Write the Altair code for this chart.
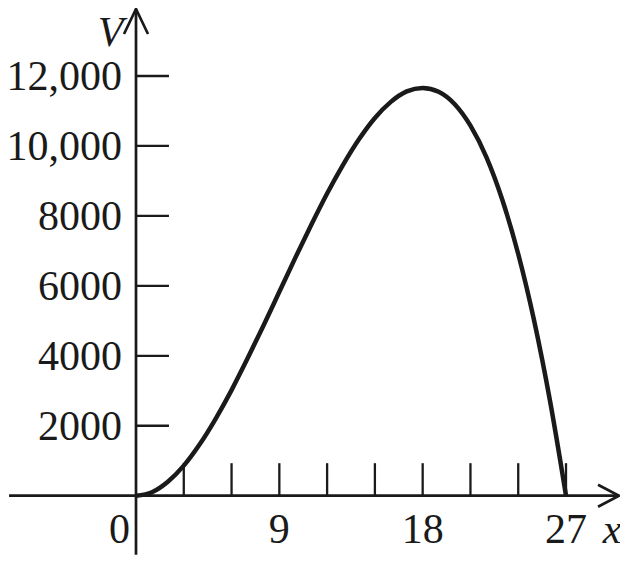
import altair as alt
import pandas as pd

# ---- data ----
curve_x = list(range(0, 28))
curve_v = [0, 100, 400, 860, 1470, 2200, 3020, 3920, 4860, 5830, 6800, 7740,
           8640, 9460, 10190, 10800, 11260, 11560, 11660, 11550, 11200, 10580,
           9680, 8460, 6910, 5000, 2700, 0]

x_ticks = [3, 6, 9, 12, 15, 18, 21, 24, 27]
x_tick_labels = ["9", "18", "27"]
x_label_pos = [9, 18, 27]
y_ticks = [2000, 4000, 6000, 8000, 10000, 12000]
y_tick_labels = ["2000", "4000", "6000", "8000", "10,000", "12,000"]

W, H = 612, 547
XD = [-8.037, 30.39]
YD = [-1695, 13944]
xs = alt.Scale(domain=XD, nice=False, zero=False)
ys = alt.Scale(domain=YD, nice=False, zero=False)

FONT = "Liberation Serif"
FS = 42
INK = "#1a1a1a"

curve_df = pd.DataFrame({"x": curve_x, "v": curve_v})
curve = alt.Chart(curve_df).mark_line(color=INK, strokeWidth=4.5,
                                      interpolate="monotone", clip=False).encode(
    x=alt.X("x:Q", scale=xs, axis=None),
    y=alt.Y("v:Q", scale=ys, axis=None),
)

axes_df = pd.DataFrame({"x1": [-7.97, 0], "x2": [30.33, 0],
                        "y1": [0, -1690], "y2": [0, 13916]})
axes = alt.Chart(axes_df).mark_rule(color=INK, strokeWidth=2.7).encode(
    x=alt.X("x1:Q", scale=xs, axis=None), x2="x2:Q",
    y=alt.Y("y1:Q", scale=ys, axis=None), y2="y2:Q",
)

xt_df = pd.DataFrame({"x": x_ticks})
xticks = alt.Chart(xt_df).mark_rule(color=INK, strokeWidth=2.3).encode(
    x=alt.X("x:Q", scale=xs, axis=None),
    y=alt.Y("y0:Q", scale=ys, axis=None), y2="y1:Q",
).transform_calculate(y0="0", y1="930")

yt_df = pd.DataFrame({"v": y_ticks})
yticks = alt.Chart(yt_df).mark_rule(color=INK, strokeWidth=2.3).encode(
    y=alt.Y("v:Q", scale=ys, axis=None),
    x=alt.X("x0:Q", scale=xs, axis=None), x2="x1:Q",
).transform_calculate(x0="0", x1="2.07")

arrow_df = pd.DataFrame({
    "arrow": ["y", "y", "y", "x", "x", "x"],
    "o": [0, 1, 2, 0, 1, 2],
    "x": [-0.753, 0, 0.753, 29.01, 30.33, 29.01],
    "y": [13201, 13916, 13201, 314, 0, -314],
})
arrows = alt.Chart(arrow_df).mark_line(color=INK, strokeWidth=2.7,
                                       strokeJoin="miter").encode(
    x=alt.X("x:Q", scale=xs, axis=None),
    y=alt.Y("y:Q", scale=ys, axis=None),
    detail="arrow:N", order="o:Q",
)

ylab_df = pd.DataFrame({"v": y_ticks, "t": y_tick_labels})
ylabels = alt.Chart(ylab_df).mark_text(font=FONT, fontSize=FS, align="right",
                                       baseline="middle", color=INK, dy=1).encode(
    y=alt.Y("v:Q", scale=ys, axis=None),
    x=alt.X("xx:Q", scale=xs, axis=None),
    text="t:N",
).transform_calculate(xx="-0.879")

xlab_df = pd.DataFrame({"x": x_label_pos, "t": x_tick_labels})
xlabels = alt.Chart(xlab_df).mark_text(font=FONT, fontSize=FS, align="center",
                                       baseline="alphabetic", color=INK).encode(
    x=alt.X("x:Q", scale=xs, axis=None),
    y=alt.Y("yy:Q", scale=ys, axis=None),
    text="t:N",
).transform_calculate(yy="-1352")

zero_df = pd.DataFrame({"x": [-0.377], "y": [-1352], "t": ["0"]})
zero_lab = alt.Chart(zero_df).mark_text(font=FONT, fontSize=FS, align="right",
                                        baseline="alphabetic", color=INK).encode(
    x=alt.X("x:Q", scale=xs, axis=None), y=alt.Y("y:Q", scale=ys, axis=None), text="t:N")

ital_df = pd.DataFrame({"x": [29.89, -1.6], "y": [-1352, 12870], "t": ["x", "V"]})
ital_lab = alt.Chart(ital_df).mark_text(font=FONT, fontSize=FS, align="center",
                                        baseline="alphabetic", fontStyle="italic",
                                        color=INK).encode(
    x=alt.X("x:Q", scale=xs, axis=None), y=alt.Y("y:Q", scale=ys, axis=None), text="t:N")

chart = alt.layer(axes, xticks, yticks, arrows, curve, ylabels, xlabels, zero_lab, ital_lab).properties(
    width=W, height=H, autosize=alt.AutoSizeParams(type="none"), padding=0,
    background="white",
).configure_view(stroke=None)

chart.save("out.html", embed_options={"renderer": "svg", "actions": False})
